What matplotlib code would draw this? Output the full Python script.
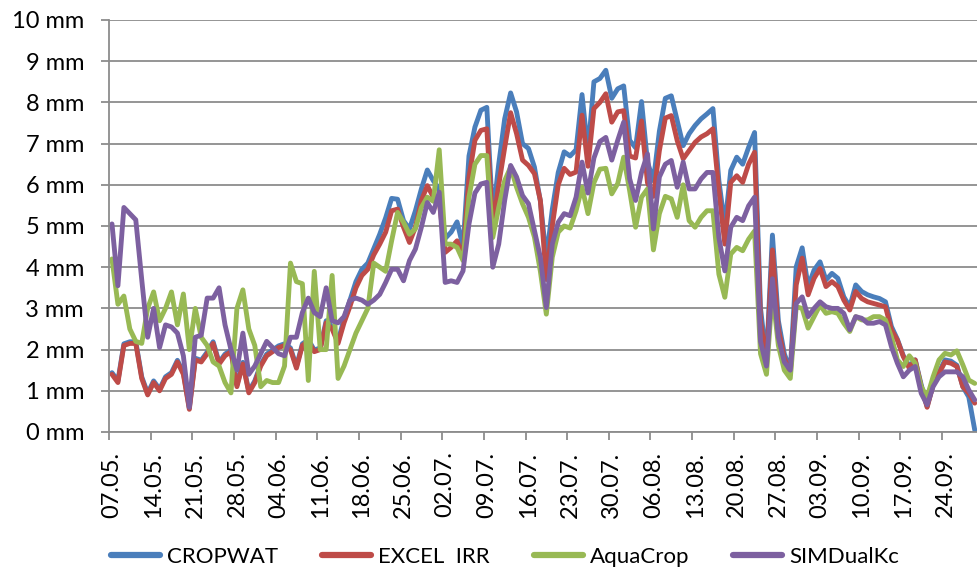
import numpy as np
import matplotlib
matplotlib.use("Agg")
import matplotlib.pyplot as plt
from matplotlib.lines import Line2D

plt.rcParams['font.family'] = ['Lato', 'DejaVu Sans']

# daily values 07.05. - 29.09. (146 days)
excel_irr = [
    1.4, 1.2, 2.1, 2.15, 2.15, 1.3, 0.9, 1.2, 1.0, 1.3,
    1.4, 1.7, 1.4, 0.55, 1.75, 1.7, 1.9, 2.15, 1.65, 1.85,
    1.95, 1.1, 1.65, 0.95, 1.2, 1.6, 1.85, 1.95, 2.05, 2.1,
    2.0, 1.55, 2.1, 2.2, 1.95, 2.0, 2.65, 2.5, 2.15, 2.65,
    3.05, 3.5, 3.8, 3.95, 4.3, 4.56, 4.85, 5.37, 5.41, 4.97,
    4.6, 4.97, 5.62, 5.98, 5.7, 5.6, 4.36, 4.48, 4.64, 4.24,
    6.18, 7.08, 7.32, 7.36, 5.0, 6.0, 6.9, 7.75, 7.24, 6.6,
    6.47, 6.27, 5.62, 3.7, 5.0, 6.0, 6.4, 6.25, 6.31, 7.69,
    6.45, 7.85, 8.0, 8.21, 7.52, 7.77, 7.8, 6.7, 6.65, 7.55,
    6.05, 5.72, 6.83, 7.62, 7.68, 7.07, 6.63, 6.83, 7.03, 7.16,
    7.24, 7.36, 5.86, 4.56, 6.06, 6.22, 6.06, 6.5, 6.79, 2.7,
    1.7, 4.42, 2.5, 1.8, 1.4, 3.57, 4.22, 3.33, 3.73, 3.97,
    3.53, 3.65, 3.53, 3.2, 2.96, 3.41, 3.24, 3.16, 3.12, 3.08,
    3.04, 2.48, 2.23, 1.83, 1.55, 1.75, 1.1, 0.6, 1.14, 1.42,
    1.7, 1.67, 1.59, 1.1, 0.94, 0.7,
]

cropwat = [
    1.44, 1.24, 2.14, 2.19, 2.19, 1.34, 0.94, 1.24, 1.04, 1.34,
    1.44, 1.74, 1.44, 0.58, 1.79, 1.74, 1.94, 2.19, 1.69, 1.89,
    1.99, 1.14, 1.69, 0.99, 1.24, 1.64, 1.89, 1.99, 2.09, 2.14,
    2.04, 1.59, 2.14, 2.24, 1.99, 2.04, 2.7, 2.55, 2.2, 2.75,
    3.2, 3.65, 3.95, 4.1, 4.45, 4.8, 5.2, 5.67, 5.65, 5.13,
    4.93, 5.37, 5.9, 6.36, 6.1, 5.9, 4.7, 4.85, 5.1, 4.5,
    6.7, 7.4, 7.81, 7.88, 5.2, 6.5, 7.6, 8.23, 7.77, 7.0,
    6.88, 6.43, 5.6, 4.2, 5.4, 6.3, 6.8, 6.7, 6.85, 8.19,
    6.8, 8.5, 8.58, 8.78, 8.1, 8.33, 8.4, 7.08, 6.9, 8.02,
    6.55, 6.1, 7.3, 8.1, 8.16, 7.56, 6.95, 7.24, 7.44, 7.6,
    7.72, 7.85, 6.1, 5.0, 6.35, 6.67, 6.5, 6.91, 7.27, 3.0,
    1.75, 4.78, 2.7, 1.9, 1.5, 4.01, 4.47, 3.53, 3.93, 4.13,
    3.69, 3.85, 3.73, 3.28, 3.04, 3.57, 3.41, 3.33, 3.28, 3.24,
    3.16, 2.56, 2.25, 1.85, 1.6, 1.75, 1.15, 0.62, 1.15, 1.45,
    1.75, 1.72, 1.62, 1.1, 0.85, 0.05,
]

aquacrop = [
    4.2, 3.1, 3.3, 2.5, 2.2, 2.15, 3.0, 3.4, 2.7, 3.0,
    3.4, 2.6, 3.35, 2.0, 3.0, 2.3, 2.1, 1.7, 1.6, 1.2,
    0.95, 3.0, 3.45, 2.5, 2.1, 1.1, 1.25, 1.2, 1.2, 1.6,
    4.1, 3.65, 3.6, 1.25, 3.9, 2.0, 2.0, 3.8, 1.3, 1.6,
    2.0, 2.4, 2.7, 3.0, 4.1, 4.0, 3.9, 4.64, 5.33, 5.09,
    4.8, 4.93, 5.45, 5.7, 5.6, 6.85, 4.56, 4.56, 4.48, 4.16,
    5.7, 6.5, 6.71, 6.71, 4.72, 5.45, 6.1, 6.43, 5.94, 5.54,
    5.21, 4.73, 3.9, 2.86, 4.24, 4.85, 5.0, 4.95, 5.37, 5.94,
    5.3, 6.05, 6.38, 6.4, 5.78, 6.03, 6.67, 5.86, 4.97, 5.7,
    5.9, 4.42, 5.3, 5.72, 5.66, 5.21, 6.0, 5.13, 4.97, 5.21,
    5.37, 5.37, 3.83, 3.27, 4.32, 4.48, 4.4, 4.68, 4.88, 1.9,
    1.4, 3.4, 2.1, 1.5, 1.3, 3.04, 3.0, 2.52, 2.8, 3.08,
    2.88, 2.92, 2.88, 2.64, 2.44, 2.8, 2.72, 2.72, 2.8, 2.8,
    2.72, 2.31, 1.75, 1.59, 1.85, 1.67, 1.1, 0.85, 1.34, 1.75,
    1.91, 1.87, 1.97, 1.63, 1.26, 1.18,
]

simdualkc = [
    5.05, 3.55, 5.45, 5.3, 5.15, 3.7, 2.3, 3.0, 2.05, 2.6,
    2.55, 2.4, 1.85, 0.6, 2.3, 2.35, 3.25, 3.25, 3.5, 2.6,
    2.0, 1.5, 2.4, 1.4, 1.6, 1.9, 2.2, 2.05, 1.9, 1.85,
    2.3, 2.3, 2.9, 3.25, 2.9, 2.8, 3.5, 2.7, 2.65, 2.8,
    3.2, 3.25, 3.2, 3.1, 3.2, 3.34, 3.63, 3.95, 3.95, 3.67,
    4.16, 4.44, 4.97, 5.57, 5.33, 5.82, 3.63, 3.67, 3.63, 3.91,
    5.05, 5.8, 6.02, 6.06, 4.0, 4.56, 5.62, 6.47, 6.19, 5.74,
    5.54, 4.89, 4.24, 3.02, 4.56, 5.09, 5.3, 5.25, 5.7, 6.55,
    5.8, 6.65, 7.05, 7.15, 6.6, 7.08, 7.52, 6.15, 5.62, 6.3,
    6.75, 4.93, 6.19, 6.5, 6.59, 5.94, 6.55, 5.9, 5.9, 6.14,
    6.3, 6.3, 4.72, 3.91, 4.97, 5.21, 5.13, 5.49, 5.7, 2.2,
    1.6, 3.72, 2.3, 1.7, 1.5, 3.12, 3.28, 2.8, 3.0, 3.16,
    3.04, 3.0, 3.0, 2.88, 2.48, 2.8, 2.76, 2.64, 2.64, 2.68,
    2.6, 2.07, 1.67, 1.34, 1.5, 1.59, 0.94, 0.66, 1.1, 1.34,
    1.46, 1.46, 1.46, 1.34, 1.02, 0.78,
]

series_names = ["CROPWAT", "EXCEL  IRR", "AquaCrop", "SIMDualKc"]
series_colors = ["#4A7EBB", "#BE4B48", "#98B954", "#7D60A0"]

date_labels = ["07.05.", "14.05.", "21.05.", "28.05.", "04.06.", "11.06.", "18.06.",
               "25.06.", "02.07.", "09.07.", "16.07.", "23.07.", "30.07.", "06.08.",
               "13.08.", "20.08.", "27.08.", "03.09.", "10.09.", "17.09.", "24.09."]
y_ticks = list(range(0, 11))
y_labels = [f"{v} mm" for v in y_ticks]

W, H = 977, 569
fig = plt.figure(figsize=(W / 100, H / 100), dpi=100)
ax = fig.add_axes([109 / W, 1 - 432 / H, (977.7 - 109) / W, 412 / H])

x = np.arange(len(cropwat))
for vals, name, col in zip([cropwat, excel_irr, aquacrop, simdualkc], series_names, series_colors):
    ax.plot(x, vals, color=col, lw=3.5, solid_joinstyle='round', solid_capstyle='round',
            label=name, clip_on=True)

ax.set_xlim(-0.5, len(x) - 0.5)
ax.set_ylim(0, 10)

grid_col = "#8C8C8C"
ax.set_yticks(y_ticks)
ax.set_yticklabels(y_labels)
ax.yaxis.grid(True, color=grid_col, lw=1.3)
ax.set_axisbelow(True)

ax.set_xticks(np.arange(-0.5, len(x), 7))
ax.set_xticklabels([])
ax.set_xticks(np.arange(0, len(x), 7)[:len(date_labels)], minor=True)
ax.set_xticklabels(date_labels, minor=True, rotation=90, va='top', ha='center')

fs = 17
ax.tick_params(axis='x', which='major', length=6, width=1.3, color=grid_col, direction='out')
ax.tick_params(axis='x', which='minor', length=0, pad=14, labelsize=fs)
ax.tick_params(axis='y', which='major', length=6, width=1.3, color=grid_col, pad=12, labelsize=fs)

for s in ['top', 'right']:
    ax.spines[s].set_visible(False)
for s in ['left', 'bottom']:
    ax.spines[s].set_color(grid_col)
    ax.spines[s].set_linewidth(1.3)

handles = [Line2D([0], [0], color=c, lw=4.5, solid_capstyle='round') for c in series_colors]
fig.legend(handles, series_names, loc='center', bbox_to_anchor=(505 / W, 1 - 557 / H),
           ncol=4, frameon=False, fontsize=16, handlelength=2.2, handletextpad=0.3,
           columnspacing=2.0, borderpad=0, borderaxespad=0)

fig.savefig("out.png", dpi=100)
